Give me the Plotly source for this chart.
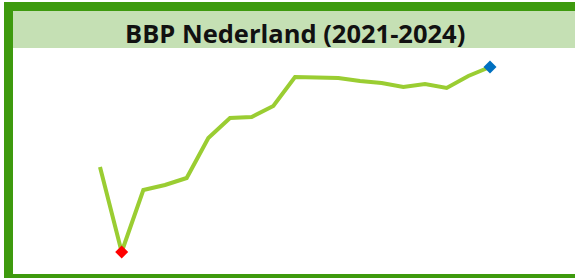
import plotly.graph_objects as go

# Data (quarterly GDP)
quarters = ["Q1", "Q2", "Q3", "Q4", "Q5", "Q6", "Q7", "Q8", "Q9", "Q10",
            "Q11", "Q12", "Q13", "Q14", "Q15", "Q16", "Q17", "Q18", "Q19"]
bbp = [200.0, 183.0, 195.4, 196.4, 197.8, 205.8, 209.8, 210.0, 212.2, 218.0,
       217.9, 217.8, 217.2, 216.8, 216.0, 216.6, 215.8, 218.2, 220.0]
title_text = "BBP Nederland (2021-2024)"

W, H = 575, 278
idx = list(range(len(bbp)))

imin = bbp.index(min(bbp))
imax = bbp.index(max(bbp))

def px_x(p):
    return p / W

def px_y(p):
    return 1 - p / H

fig = go.Figure()
fig.add_trace(go.Scatter(x=idx, y=bbp, mode="lines",
                         line=dict(color="#9ACD32", width=4),
                         text=quarters, hoverinfo="text+y"))
fig.add_trace(go.Scatter(x=[imin], y=[bbp[imin]], mode="markers",
                         marker=dict(symbol="diamond", color="#FF0000", size=10)))
fig.add_trace(go.Scatter(x=[imax], y=[bbp[imax]], mode="markers",
                         marker=dict(symbol="diamond", color="#0070C0", size=10)))

step = 390 / 18
x0 = -100 / step
x1 = (W - 100) / step
fig.update_xaxes(range=[x0, x1], visible=False, fixedrange=True)
fig.update_yaxes(range=[177.8, 233.4], visible=False, fixedrange=True)

shapes = [
    # title band
    dict(type="rect", xref="paper", yref="paper", x0=px_x(13), x1=1.05,
         y0=px_y(48), y1=px_y(11), fillcolor="#C5E0B4", line_width=0, layer="below"),
    # border: top, left, bottom
    dict(type="rect", xref="paper", yref="paper", x0=px_x(4), x1=1.05,
         y0=px_y(11), y1=px_y(2), fillcolor="#3E9A0E", line_width=0, layer="below"),
    dict(type="rect", xref="paper", yref="paper", x0=px_x(4), x1=px_x(13),
         y0=-0.05, y1=px_y(2), fillcolor="#3E9A0E", line_width=0, layer="below"),
    dict(type="rect", xref="paper", yref="paper", x0=px_x(4), x1=1.05,
         y0=-0.05, y1=px_y(274), fillcolor="#3E9A0E", line_width=0, layer="below"),
]

fig.update_layout(
    width=W, height=H,
    margin=dict(l=0, r=0, t=0, b=0),
    paper_bgcolor="white", plot_bgcolor="white",
    showlegend=False,
    shapes=shapes,
    annotations=[dict(text=title_text, xref="paper", yref="paper",
                      x=px_x(295), y=px_y(33), xanchor="center", yanchor="middle",
                      showarrow=False,
                      font=dict(family="Open Sans", size=25.5, color="#111111", weight="bold"))],
)

fig.write_html("out.html", config={"displayModeBar": False},
               post_script="document.body.style.margin='0';document.body.style.overflow='hidden';")
